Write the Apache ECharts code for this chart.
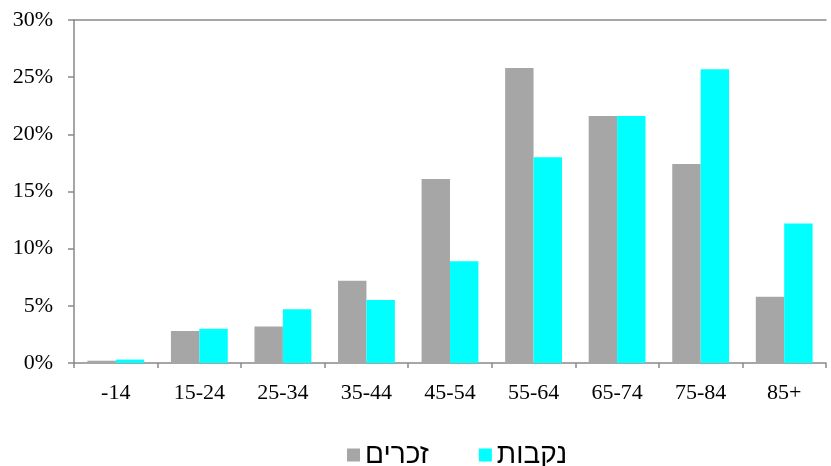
<!DOCTYPE html>
<html>
<head>
<meta charset="utf-8">
<script src="https://cdn.jsdelivr.net/npm/echarts@6/dist/echarts.min.js"></script>
<style>html,body{margin:0;padding:0;background:#fff}#c{width:831px;height:466px}</style>
</head>
<body>
<div id="c"></div>
<script>
const categories = ['-14', '15-24', '25-34', '35-44', '45-54', '55-64', '65-74', '75-84', '85+'];
const males = [0.2, 2.8, 3.2, 7.2, 16.1, 25.8, 21.6, 17.4, 5.8];
const females = [0.3, 3.0, 4.7, 5.5, 8.9, 18.0, 21.6, 25.7, 12.2];
const seriesNames = ['זכרים', 'נקבות'];
const yTicks = [0, 5, 10, 15, 20, 25, 30];

const axisColor = '#898989';
const chart = echarts.init(document.getElementById('c'));
chart.setOption({
  animation: false,
  backgroundColor: '#fff',
  grid: { left: 74, right: 5, top: 20, bottom: 103 },
  legend: {
    top: 441,
    left: 347,
    padding: 0,
    itemWidth: 13,
    itemHeight: 13,
    itemGap: 50,
    icon: 'rect',
    textStyle: { fontFamily: 'Liberation Sans', fontSize: 28, color: '#000' },
    data: seriesNames
  },
  xAxis: [{
    type: 'category',
    data: categories,
    axisLine: { lineStyle: { color: axisColor, width: 1.5 } },
    axisTick: { show: true, length: 5, lineStyle: { color: axisColor, width: 1.5 } },
    axisLabel: { fontFamily: 'Liberation Serif', fontSize: 22, color: '#000', margin: 19 }
  }, {
    type: 'category',
    position: 'top',
    data: categories,
    axisLine: { show: true, lineStyle: { color: axisColor, width: 1.5 } },
    axisTick: { show: false },
    axisLabel: { show: false }
  }],
  yAxis: {
    type: 'value',
    min: yTicks[0],
    max: yTicks[yTicks.length - 1],
    interval: 5,
    axisLine: { show: true, lineStyle: { color: axisColor, width: 1.5 } },
    axisTick: { show: true, length: 6, lineStyle: { color: axisColor, width: 1.5 } },
    splitLine: { show: false },
    axisLabel: { fontFamily: 'Liberation Serif', fontSize: 22, color: '#000', margin: 21, formatter: v => v + '%' }
  },
  series: [{
    name: seriesNames[0],
    type: 'bar',
    data: males,
    barGap: '0%',
    barCategoryGap: '32%',
    itemStyle: { color: '#A6A6A6' }
  }, {
    name: seriesNames[1],
    type: 'bar',
    data: females,
    barGap: '0%',
    barCategoryGap: '32%',
    itemStyle: { color: '#00FFFF' }
  }]
});
</script>
</body>
</html>
